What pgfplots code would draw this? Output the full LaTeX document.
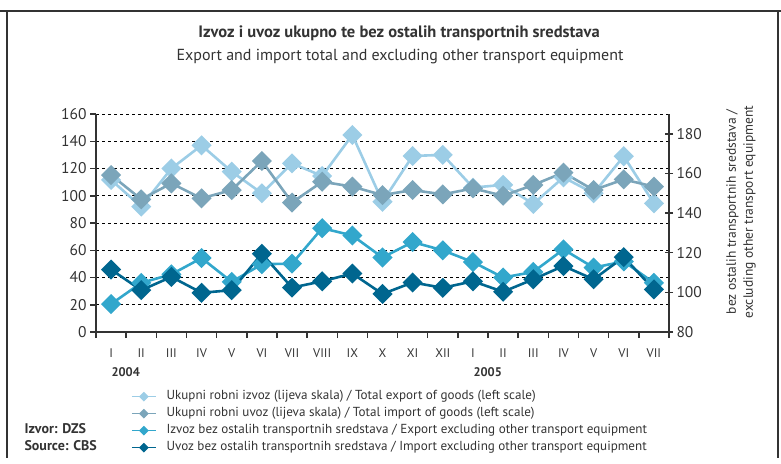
\documentclass[border=0pt]{standalone}
\usepackage{pgfplots}
\pgfplotsset{compat=1.18}
\usepackage{fontspec}
\setmainfont{PT Sans}
\definecolor{clight}{HTML}{9CCDE6}
\definecolor{cgrey}{HTML}{7BA5BA}
\definecolor{ccyan}{HTML}{32A7CC}
\definecolor{cdark}{HTML}{00668F}
\definecolor{ctext}{HTML}{333333}
\pgfplotstableread{
x exptot imptot
0 111.6 115.2
1 92.0 97.4
2 120.0 109.1
3 137.0 98.1
4 117.7 104.2
5 101.8 125.5
6 123.8 95.0
7 114.5 110.3
8 144.6 106.7
9 95.6 100.5
10 129.2 104.2
11 130.0 101.0
12 106.0 105.4
13 108.0 100.0
14 94.0 107.9
15 113.5 117.0
16 101.8 104.2
17 129.0 112.0
18 94.4 106.7
}\lefttable
\pgfplotstableread{
x expex impex
0 94.1 111.5
1 104.8 101.1
2 109.1 107.8
3 117.3 99.8
4 105.3 101.1
5 114.2 119.5
6 114.5 102.4
7 132.4 105.6
8 128.7 109.5
9 117.6 99.2
10 125.4 105.0
11 121.2 102.3
12 115.3 105.6
13 107.5 100.3
14 110.3 106.6
15 121.7 113.3
16 112.5 106.6
17 115.6 117.8
18 104.8 101.5
}\righttable
\begin{document}
\begin{tikzpicture}[x=1pt,y=1pt]
\useasboundingbox (0,0) rectangle (781,-463);
\draw[line width=2.5pt, ctext] (0,-11) -- (781,-11);
\draw[line width=2.5pt, ctext] (7,-10) -- (7,-458);
\draw[line width=2.5pt, ctext] (778,-10) -- (778,-458);
\node[font=\fontsize{16.5}{18}\selectfont\bfseries, text=ctext] at (399,-33) {Izvoz i uvoz ukupno te bez ostalih transportnih sredstava};
\node[font=\fontsize{16}{18}\selectfont, text=ctext] at (400,-57) {Export and import total and excluding other transport equipment};
\pgfplotsset{
  common/.style={
    scale only axis, width=573pt, height=218pt,
    at={(96pt,-332pt)}, anchor=south west,
    xmin=-0.5, xmax=18.5,
    axis line style={line width=2pt, ctext},
    /pgf/number format/assume math mode=true,
    tick label style={font=\fontsize{15.5}{15}\selectfont, text=ctext},
    every tick/.style={line width=1.5pt, ctext},
    mark options={solid, rotate=45},
  },
  ser/.style={line width=2.6pt, mark=square*, mark size=5.8pt, color=#1, mark options={fill=#1, rotate=45}},
}
\begin{axis}[common,
  ymin=0, ymax=160, ytick={0,20,...,160},
  axis x line*=bottom, axis y line*=left,
  ymajorgrids, grid style={dashed, black, line width=0.7pt},
  xtick={0,...,18},
  xticklabels={I,II,III,IV,V,VI,VII,VIII,IX,X,XI,XII,I,II,III,IV,V,VI,VII},
  xticklabel style={font=\fontsize{12.5}{13}\selectfont, yshift=-7pt},
  major x tick style={draw=none},
  minor xtick={-0.5,0.5,...,18.5},
  minor tick length=6pt, major tick length=6pt,
  tick align=outside,
]
\addplot[ser=clight] table[x=x, y=exptot] {\lefttable};
\addplot[ser=cgrey] table[x=x, y=imptot] {\lefttable};
\end{axis}
\begin{axis}[common,
  ymin=80, ymax=190, ytick={80,100,...,180},
  axis x line=none, axis y line*=right,
  tick align=center, major tick length=8pt,
  legend style={at={(rel axis cs:0.056,-0.259)}, anchor=north west, draw=none, fill=none,
    font=\fontsize{13.1}{14}\selectfont, text=ctext,
    nodes={inner sep=0pt, text height=9pt, text depth=3pt},
    row sep=5pt,
    /tikz/every odd column/.append style={column sep=10pt}},
  legend cell align=left,
  legend image code/.code={\draw[mark repeat=2, mark phase=2] plot coordinates {(0pt,0pt)(12pt,0pt)(24pt,0pt)};},
  legend image post style={line width=1.3pt, mark size=2.8pt},
]
\addlegendimage{ser=clight}
\addlegendentry{Ukupni robni izvoz (lijeva skala) / Total export of goods (left scale)}
\addlegendimage{ser=cgrey}
\addlegendentry{Ukupni robni uvoz (lijeva skala) / Total import of goods (left scale)}
\addplot[ser=ccyan] table[x=x, y=expex] {\righttable};
\addlegendentry{Izvoz bez ostalih transportnih sredstava / Export excluding other transport equipment}
\addplot[ser=cdark] table[x=x, y=impex] {\righttable};
\addlegendentry{Uvoz bez ostalih transportnih sredstava / Import excluding other transport equipment}
\end{axis}
\node[rotate=90, align=center, font=\fontsize{13.5}{17}\selectfont, text=ctext] at (741,-212) {bez ostalih transportnih sredstava /\\excluding other transport equipment};
\node[anchor=west, font=\fontsize{12.5}{14}\selectfont\bfseries, text=ctext] at (108,-372) {2004};
\node[anchor=west, font=\fontsize{12.5}{14}\selectfont\bfseries, text=ctext] at (470,-372) {2005};
\node[anchor=west, font=\fontsize{14}{14}\selectfont\bfseries, text=ctext] at (21,-429) {Izvor: DZS};
\node[anchor=west, font=\fontsize{14}{14}\selectfont\bfseries, text=ctext] at (21,-446) {Source: CBS};
\end{tikzpicture}
\end{document}
